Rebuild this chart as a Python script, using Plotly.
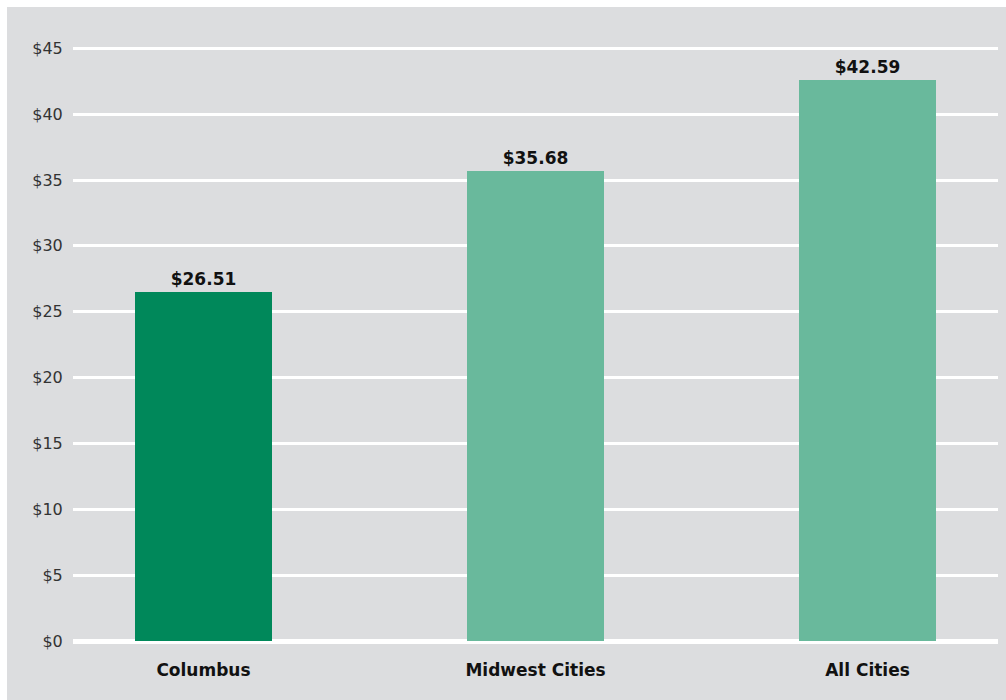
import plotly.graph_objects as go

categories = ['Columbus', 'Midwest Cities', 'All Cities']
values = [26.51, 35.68, 42.59]
bar_colors = ['#00885a', '#69b99c', '#69b99c']
tick_vals = [0, 5, 10, 15, 20, 25, 30, 35, 40, 45]
tick_text = ['$' + str(v) for v in tick_vals]

fig = go.Figure()
fig.add_trace(go.Bar(
    x=categories, y=values,
    marker=dict(color=bar_colors, line=dict(width=0)),
    width=0.41,
    text=['$%.2f' % v for v in values],
    textposition='outside',
    cliponaxis=False,
    textfont=dict(family='DejaVu Sans', size=17, color='#111111', weight='bold'),
))

grey = '#dcdddf'
fig.update_layout(
    width=1006, height=700,
    margin=dict(l=73, r=8, t=22, b=59),
    paper_bgcolor=grey,
    plot_bgcolor=grey,
    showlegend=False,
    bargap=0,
    font=dict(family='DejaVu Sans'),
    shapes=[
        # white border strips at top and left of the picture
        dict(type='rect', xref='paper', yref='paper', x0=-73/925, x1=1.01, y0=1 + 15/619, y1=1 + 22/619,
             fillcolor='white', line=dict(width=0), layer='below'),
        dict(type='rect', xref='paper', yref='paper', x0=-73/925, x1=-66/925, y0=-59/619, y1=1 + 22/619,
             fillcolor='white', line=dict(width=0), layer='below'),
    ],
)
fig.update_xaxes(
    range=[-0.393, 2.393],
    showgrid=False, showline=False, zeroline=False,
    ticks='outside', ticklen=14, tickcolor='rgba(0,0,0,0)',
    tickfont=dict(family='DejaVu Sans', size=17, color='#111111', weight='bold'),
)
fig.update_yaxes(
    range=[0, 47],
    tickvals=tick_vals, ticktext=tick_text,
    showgrid=True, gridcolor='white', gridwidth=3,
    zeroline=True, zerolinecolor='white', zerolinewidth=5,
    showline=False,
    ticks='outside', ticklen=6, tickcolor='rgba(0,0,0,0)',
    tickfont=dict(family='DejaVu Sans', size=16, color='#333333'),
)

fig.write_html('out.html', config={'displayModeBar': False},
               post_script="document.body.style.margin='0';")
